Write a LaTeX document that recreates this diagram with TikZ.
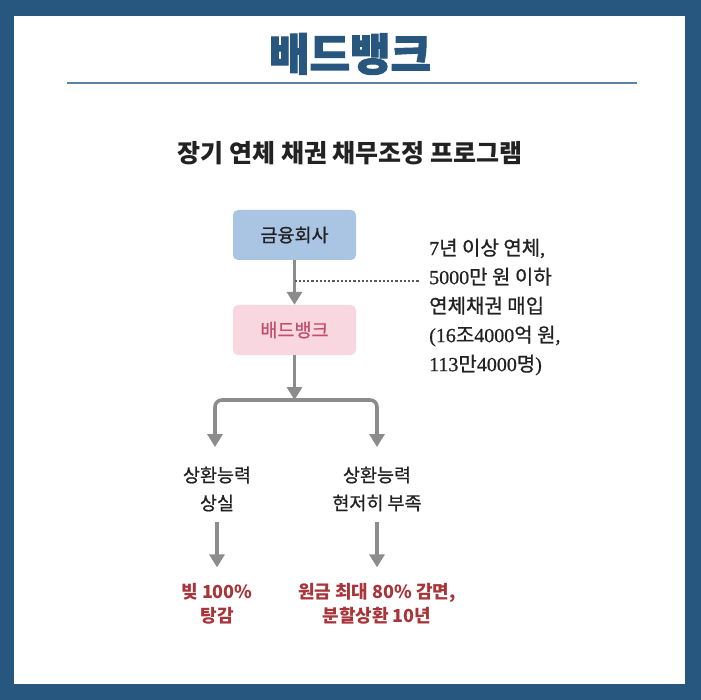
\documentclass[tikz,border=0pt]{standalone}
\usepackage{fontspec}
\usetikzlibrary{arrows.meta}
\newfontfamily\kr{Noto Sans CJK KR}
\newfontfamily\krmed{Noto Sans CJK KR}[FakeBold=0.8]
\newfontfamily\krheavy{Noto Sans CJK KR}[BoldFeatures={FakeBold=2.5}]
\newfontfamily\serifnum{Liberation Serif}[FakeBold=0.8]
\newcommand\sn[1]{{\serifnum #1}}
\definecolor{bordblue}{HTML}{27577F}
\definecolor{linecol}{HTML}{5E82A3}
\definecolor{boxblue}{HTML}{A9C5E3}
\definecolor{boxpink}{HTML}{F9D7E0}
\definecolor{pinktext}{HTML}{C24E6E}
\definecolor{arrowgray}{HTML}{8C8C8C}
\definecolor{redtext}{HTML}{A8353A}
\definecolor{textdark}{HTML}{222222}
\tikzset{
  boxnode/.style={rounded corners=5pt, minimum width=123pt, minimum height=50pt, inner sep=0pt,
    font=\krmed\fontsize{18.5}{22}\selectfont, text=textdark},
  flow/.style={draw=arrowgray, line width=3.6pt, -{Triangle[width=15pt,length=13pt]}},
  flowboth/.style={draw=arrowgray, line width=3.6pt, {Triangle[width=15pt,length=13pt]}-{Triangle[width=15pt,length=13pt]}},
  lbl/.style={align=center, inner sep=0pt, text=textdark, font=\krmed\fontsize{18.5}{28}\selectfont},
  res/.style={align=center, inner sep=0pt, text=redtext, font=\kr\bfseries\fontsize{18}{24}\selectfont},
}
\begin{document}
\begin{tikzpicture}[x=1pt,y=-1pt]
\useasboundingbox (0,0) rectangle (701,700);
\fill[bordblue] (0,0) rectangle (701,700);
\fill[white] (14,16) rectangle (685,684);
\node[text=bordblue, font=\krheavy\bfseries\fontsize{44}{48}\selectfont, inner sep=0pt] (title) at (350,54) {배드뱅크};
\draw[linecol, line width=1.8pt] (67,83) -- (637,83);
\node[text=textdark, font=\kr\bfseries\fontsize{25}{28}\selectfont, inner sep=0pt] (sub) at (350,153) {장기 연체 채권 채무조정 프로그램};
\node[boxnode, fill=boxblue] (fin) at (294.5,235) {금융회사};
\node[boxnode, fill=boxpink, text=pinktext] (bad) at (294.5,330) {배드뱅크};
\draw[flow] (fin) -- (bad);
\coordinate (dA) at (294.5,281);
\coordinate (dB) at (420,281);
\draw[black!65, line width=1.2pt, dash pattern=on 2.2pt off 2pt] (dA) -- (dB);
\node[anchor=west, align=left, inner sep=0pt, text=textdark, font=\krmed\fontsize{20}{29}\selectfont] (note) at (429,307)
  {\sn{7}년 이상 연체\sn{,}\\ \sn{5000}만 원 이하\\ 연체채권 매입\\ \sn{(16}조\sn{4000}억 원\sn{,}\\ \sn{113}만\sn{4000}명\sn{)}};
\coordinate (split) at (294.5,400);
\draw[flow] (bad) -- (split);
\coordinate (lt) at (215,447);
\coordinate (rt) at (377,447);
\draw[flowboth, rounded corners=7pt] (lt) |- (split) -| (rt);
\node[lbl] (c1) at (217,489) {상환능력\\상실};
\node[lbl] (c2) at (377,489) {상환능력\\현저히 부족};
\node[res] (r1) at (217,604) {빚 100\%\\탕감};
\node[res] (r2) at (377,604) {원금 최대 80\% 감면,\\분할상환 10년};
\draw[flow, shorten <=10pt, shorten >=16pt] (c1) -- (r1);
\draw[flow, shorten <=10pt, shorten >=16pt] (c2) -- (r2);
\end{tikzpicture}
\end{document}
